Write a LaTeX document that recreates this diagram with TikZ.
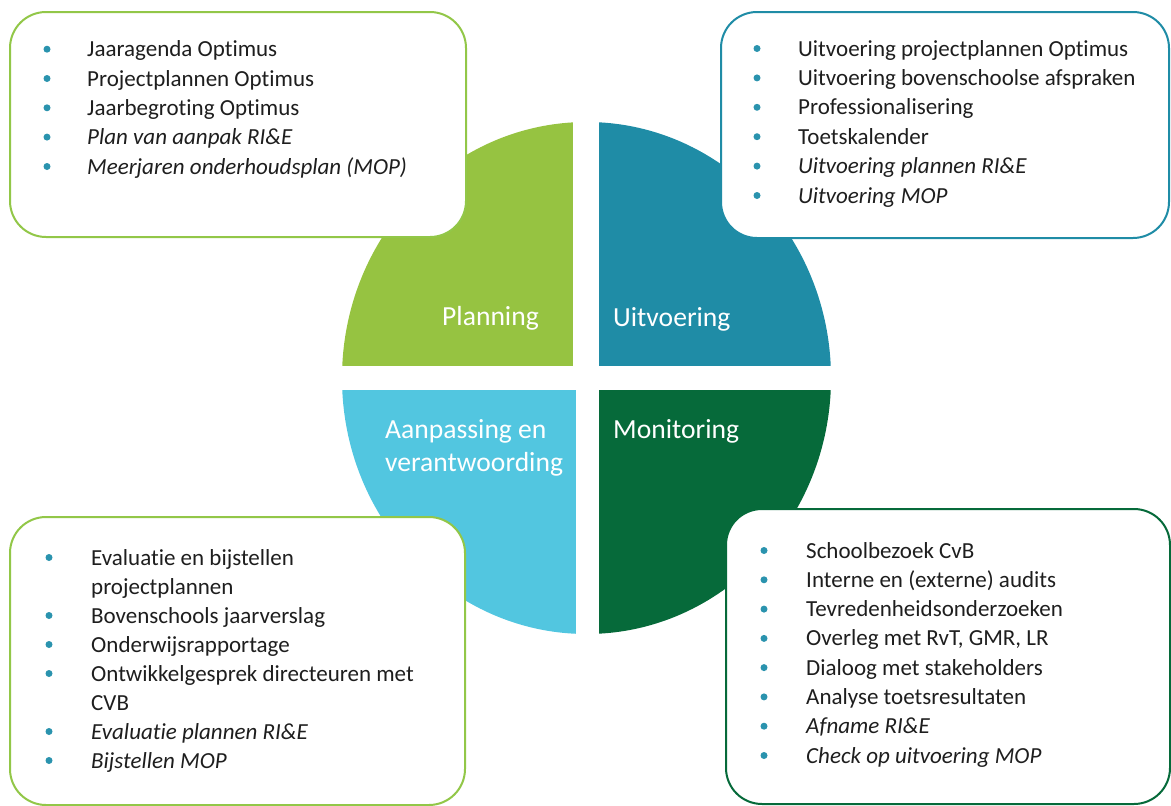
\documentclass[tikz,border=0pt]{standalone}
\usepackage{fontspec}
\setmainfont[Ligatures=NoCommon]{Carlito}
\definecolor{cgreen}{HTML}{96C341}
\definecolor{cblue}{HTML}{1F8CA6}
\definecolor{clblue}{HTML}{52C6E0}
\definecolor{cdgreen}{HTML}{066A3A}
\definecolor{bgreen}{HTML}{92C748}
\definecolor{bul}{HTML}{2A93AE}
\definecolor{txt}{HTML}{1E1E1E}
\tikzset{
  item/.style={anchor=base west, inner sep=0pt, text=txt, font=\fontsize{23}{27}\selectfont},
  lab/.style={anchor=base west, inner sep=0pt, text=white, font=\fontsize{27.6}{33}\selectfont},
  dot/.style={circle, fill=bul, inner sep=0pt, minimum size=7pt},
  box/.style={fill=white, line width=2pt, rounded corners=36pt},
}
\newcommand\itm[5]{\node[dot] (#1b) at (#2,#4-7.5) {}; \node[item] (#1) at (#3,#4) {#5};}
\begin{document}
\begin{tikzpicture}[x=1pt,y=-1pt]
\useasboundingbox (0,0) rectangle (1171,806);
\begin{scope}
\clip (586.5,378) ellipse [x radius=244.5, y radius=256];
\fill[cgreen] (300,90) rectangle (573,366);
\fill[cblue] (599,90) rectangle (880,366);
\fill[clblue] (300,390) rectangle (576,670);
\fill[cdgreen] (599,390) rectangle (880,670);
\end{scope}
\node[lab] (planning) at (442,325.5) {Planning};
\node[lab] (uitvoering) at (613,326) {Uitvoering};
\node[lab] (monitoring) at (613,438) {Monitoring};
\node[lab] (aanpassing1) at (385,438) {Aanpassing en};
\node[lab] (aanpassing2) at (385,471) {verantwoording};
% top-left box
\draw[box, draw=bgreen] (10,12) rectangle (466,237);
\itm{a1}{47}{87}{56.7}{Jaaragenda Optimus}
\itm{a2}{47}{87}{86}{Projectplannen Optimus}
\itm{a3}{47}{87}{115.3}{Jaarbegroting Optimus}
\itm{a4}{47}{87}{144.6}{\itshape Plan van aanpak RI\&E}
\itm{a5}{47}{87}{174}{\itshape Meerjaren onderhoudsplan (MOP)}
% top-right box
\draw[box, draw=cblue] (721,12) rectangle (1169,238);
\itm{b1}{757}{798}{56}{Uitvoering projectplannen Optimus}
\itm{b2}{757}{798}{85.4}{Uitvoering bovenschoolse afspraken}
\itm{b3}{757}{798}{114.8}{Professionalisering}
\itm{b4}{757}{798}{144.2}{Toetskalender}
\itm{b5}{757}{798}{173.6}{\itshape Uitvoering plannen RI\&E}
\itm{b6}{757}{798}{203}{\itshape Uitvoering MOP}
% bottom-left box
\draw[box, draw=bgreen] (10,517) rectangle (465,805);
\itm{c1}{49}{91}{565}{Evaluatie en bijstellen}
\node[item] (c1b2) at (91,594) {projectplannen};
\itm{c2}{49}{91}{623}{Bovenschools jaarverslag}
\itm{c3}{49}{91}{652}{Onderwijsrapportage}
\itm{c4}{49}{91}{681}{Ontwikkelgesprek directeuren met}
\node[item] (c4b2) at (91,710) {CVB};
\itm{c5}{49}{91}{739}{\itshape Evaluatie plannen RI\&E}
\itm{c6}{49}{91}{768}{\itshape Bijstellen MOP}
% bottom-right box
\draw[box, draw=cdgreen] (726,509) rectangle (1170,804);
\itm{d1}{764}{806}{558}{Schoolbezoek CvB}
\itm{d2}{764}{806}{587.3}{Interne en (externe) audits}
\itm{d3}{764}{806}{616.6}{Tevredenheidsonderzoeken}
\itm{d4}{764}{806}{645.9}{Overleg met RvT, GMR, LR}
\itm{d5}{764}{806}{675.1}{Dialoog met stakeholders}
\itm{d6}{764}{806}{704.4}{Analyse toetsresultaten}
\itm{d7}{764}{806}{733.7}{\itshape Afname RI\&E}
\itm{d8}{764}{806}{763}{\itshape Check op uitvoering MOP}
\end{tikzpicture}
\end{document}
